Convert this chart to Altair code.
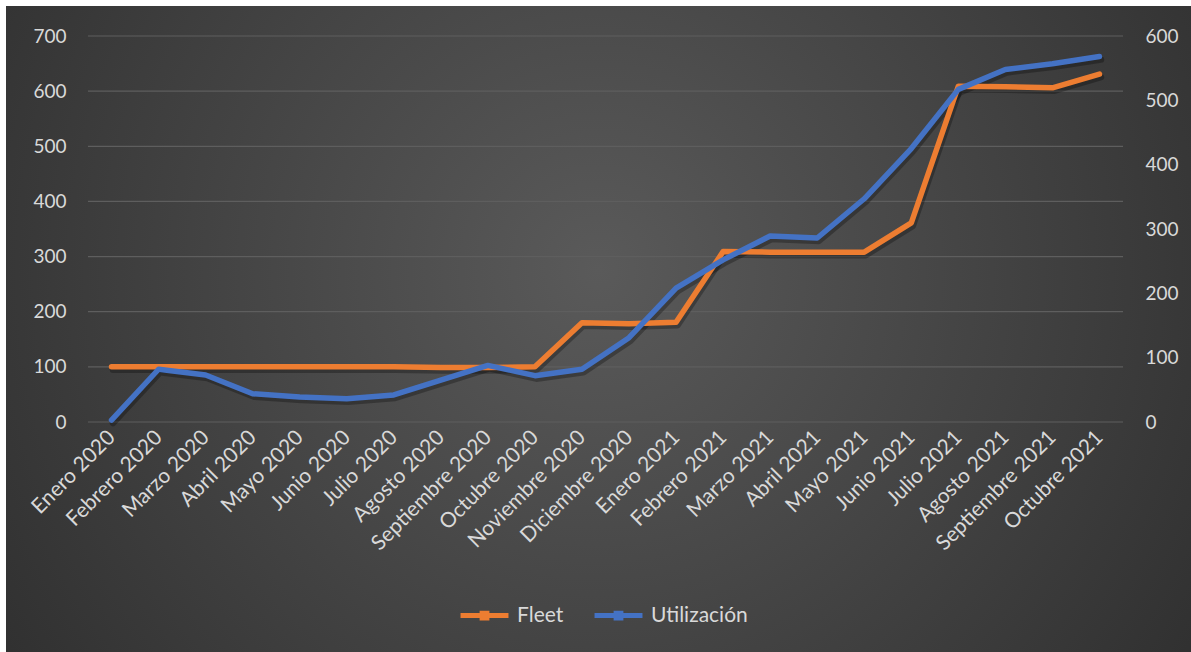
import altair as alt
import pandas as pd

# Monthly series
months = [
    "Enero 2020", "Febrero 2020", "Marzo 2020", "Abril 2020", "Mayo 2020",
    "Junio 2020", "Julio 2020", "Agosto 2020", "Septiembre 2020", "Octubre 2020",
    "Noviembre 2020", "Diciembre 2020", "Enero 2021", "Febrero 2021", "Marzo 2021",
    "Abril 2021", "Mayo 2021", "Junio 2021", "Julio 2021", "Agosto 2021",
    "Septiembre 2021", "Octubre 2021",
]
fleet = [100, 100, 100, 100, 100, 100, 100, 99, 99, 100, 180, 178, 181,
         309, 308, 308, 308, 361, 609, 608, 606, 631]
utilizacion = [3, 82, 73, 44, 39, 36, 42, 65, 88, 72, 82, 131, 208,
               252, 289, 286, 347, 425, 517, 548, 557, 568]

left_ticks = [0, 100, 200, 300, 400, 500, 600, 700]
right_ticks = [0, 100, 200, 300, 400, 500, 600]

series_names = ["Fleet", "Utilización"]
series_colors = ["#ED7D31", "#4472C4"]

PLOT_W, PLOT_H = 1035, 386
PAD = {"left": 88, "top": 36, "right": 68, "bottom": 230}
FONT = "Lato"
TXT = "#d9d9d9"

df = pd.DataFrame({
    "mes": months * 2,
    "serie": ["Fleet"] * len(months) + ["Utilización"] * len(months),
    "valor": fleet + utilizacion,
})
grid_df = pd.DataFrame({"v": left_ticks})

x_enc = alt.X("mes:N", sort=months,
              scale=alt.Scale(type="point", padding=0.5),
              axis=alt.Axis(title=None, labelAngle=-45, labelAlign="right",
                            labelBaseline="middle", labelPadding=12, zindex=1,
                            domain=False, ticks=False, grid=False,
                            labelFont=FONT, labelFontSize=21, labelColor=TXT))

# Dark radial backdrop covering the whole frame
backdrop = alt.Chart(pd.DataFrame({"k": [0]})).mark_rect(
    fill={
        "gradient": "radial",
        "x1": 0.5, "y1": 0.45, "r1": 0,
        "x2": 0.5, "y2": 0.45, "r2": 0.75,
        "stops": [
            {"offset": 0, "color": "#5a5a5a"},
            {"offset": 1, "color": "#262626"},
        ],
    }
).encode(
    x=alt.value(6 - PAD["left"]),
    x2=alt.value(1191 - PAD["left"]),
    y=alt.value(6 - PAD["top"]),
    y2=alt.value(652 - PAD["top"]),
)

gridlines = alt.Chart(grid_df).mark_rule(color="#5e5e5e", strokeWidth=1.2).encode(
    y=alt.Y("v:Q", scale=alt.Scale(domain=[0, 700]), axis=None),
    x=alt.value(0),
    x2=alt.value(PLOT_W),
)

base = alt.Chart(df).encode(x=x_enc)

fleet_shadow = base.transform_filter(alt.datum.serie == "Fleet").mark_line(
    color="black", opacity=0.28, strokeWidth=6.5, strokeCap="round",
    strokeJoin="round", xOffset=1.5, yOffset=3
).encode(y=alt.Y("valor:Q", scale=alt.Scale(domain=[0, 700]), axis=None))

util_shadow = base.transform_filter(alt.datum.serie == "Utilización").mark_line(
    color="black", opacity=0.28, strokeWidth=6.5, strokeCap="round",
    strokeJoin="round", xOffset=1.5, yOffset=3
).encode(y=alt.Y("valor:Q", scale=alt.Scale(domain=[0, 600]), axis=None))

color_enc = alt.Color(
    "serie:N",
    scale=alt.Scale(domain=series_names, range=series_colors),
    legend=alt.Legend(
        title=None, orient="none", direction="horizontal",
        legendX=370, legendY=553,
        symbolType="M-1,0H1M-0.1,-0.1H0.1V0.1H-0.1ZM-0.05,-0.05H0.05V0.05H-0.05Z",
        symbolSize=2300, symbolStrokeWidth=5,
        labelFont=FONT, labelFontSize=21, labelColor=TXT,
        labelOffset=6, columnPadding=20,
    ),
)

fleet_line = base.transform_filter(alt.datum.serie == "Fleet").mark_line(
    strokeWidth=5.5, strokeCap="round", strokeJoin="round"
).encode(
    y=alt.Y("valor:Q", scale=alt.Scale(domain=[0, 700]),
            axis=alt.Axis(title=None, values=left_ticks, orient="left", zindex=1,
                          domain=False, ticks=False, grid=False, labelPadding=22,
                          labelFont=FONT, labelFontSize=19, labelColor=TXT)),
    color=color_enc,
)

util_line = base.transform_filter(alt.datum.serie == "Utilización").mark_line(
    strokeWidth=5.5, strokeCap="round", strokeJoin="round"
).encode(
    y=alt.Y("valor:Q", scale=alt.Scale(domain=[0, 600]),
            axis=alt.Axis(title=None, values=right_ticks, orient="right", zindex=1,
                          domain=False, ticks=False, grid=False, labelPadding=22,
                          labelFont=FONT, labelFontSize=19, labelColor=TXT)),
    color=color_enc,
)

chart = alt.layer(
    backdrop, gridlines, fleet_shadow, util_shadow, fleet_line, util_line
).resolve_scale(y="independent").properties(
    width=PLOT_W, height=PLOT_H,
    autosize=alt.AutoSizeParams(type="none"),
    padding=PAD,
    background="white",
).configure_view(stroke=None)

chart.save("out.html", embed_options={"renderer": "svg", "actions": False})
